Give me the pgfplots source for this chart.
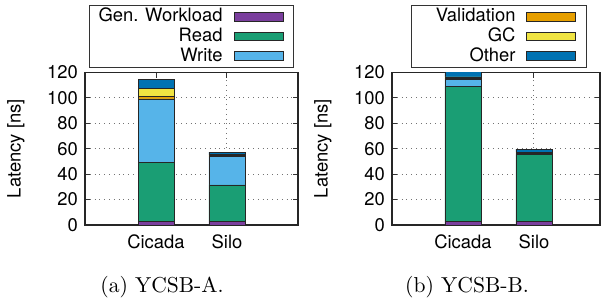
\documentclass[border=0pt]{standalone}
\usepackage{fontspec}
\setsansfont{TeX Gyre Heros}
\usepackage{pgfplots}
\pgfplotsset{compat=1.18}
\definecolor{cgen}{HTML}{7A3E9D}
\definecolor{cread}{HTML}{1A9E74}
\definecolor{cwrite}{HTML}{56B4E9}
\definecolor{cval}{HTML}{E69F00}
\definecolor{cgc}{HTML}{F0E442}
\definecolor{coth}{HTML}{0072B2}
\colorlet{edge}{black!85}
\pgfplotsset{
  lat/.style={
    ybar stacked, bar width=18pt,
    scale only axis, height=76.25pt,
    xmin=0, ymin=0, ymax=120,
    xtick={1,2}, xticklabels={Cicada,Silo},
    ytick={0,20,40,60,80,100,120},
    xticklabel style={yshift=-1.2pt},
    tick align=inside, major tick length=2.5pt,
    tick style={black!80, line width=0.5pt},
    grid=major, major grid style={dotted, black!55, line width=0.5pt},
    axis line style={black!85, line width=0.6pt},
    ylabel={Latency [ns]},
    /pgf/number format/assume math mode=true,
    legend plot pos=right, legend cell align=right,
    legend image code/.code={\draw[##1] (0pt,-2.2pt) rectangle (24.5pt,2.2pt);},
    legend style={anchor=north west, draw=black!80, line width=0.5pt,
      inner xsep=5pt, inner ysep=1.2pt, row sep=1.1pt, column sep=5.5pt,
      nodes={inner sep=0pt, text height=6.8pt, text depth=2pt}},
  }
}
\begin{document}
\begin{tikzpicture}[font=\sffamily\fontsize{9.2}{11}\selectfont]
\begin{axis}[lat, at={(42.5pt,-112.5pt)}, anchor=south west,
  width=106.5pt, xmax=3,
  ylabel style={at={(axis description cs:-0.324,0.5)}, anchor=center},
  legend style={at={(axis description cs:0.0188,1.4426)}}]
\addlegendimage{fill=cgen, draw=edge}
\addlegendentry{\makebox[61.5pt][r]{Gen. Workload}}
\addlegendimage{fill=cread, draw=edge}
\addlegendentry{Read}
\addlegendimage{fill=cwrite, draw=edge}
\addlegendentry{Write}
\addplot[fill=cgen, draw=edge] coordinates {(1,3) (2,3)};
\addplot[fill=cread, draw=edge] coordinates {(1,46) (2,28.5)};
\addplot[fill=cwrite, draw=edge] coordinates {(1,50.2) (2,22.3)};
\addplot[fill=cval, draw=edge] coordinates {(1,2.3) (2,0.8)};
\addplot[fill=cgc, draw=edge] coordinates {(1,6.1) (2,0.6)};
\addplot[fill=coth, draw=edge] coordinates {(1,7.0) (2,2.2)};
\end{axis}
\begin{axis}[lat, at={(196pt,-112.5pt)}, anchor=south west,
  width=104pt, xmax=2.93,
  ylabel style={at={(axis description cs:-0.332,0.5)}, anchor=center},
  legend style={at={(axis description cs:0.0913,1.4426)}}]
\addlegendimage{fill=cval, draw=edge}
\addlegendentry{\makebox[47pt][r]{Validation}}
\addlegendimage{fill=cgc, draw=edge}
\addlegendentry{GC}
\addlegendimage{fill=coth, draw=edge}
\addlegendentry{Other}
\addplot[fill=cgen, draw=edge] coordinates {(1,3) (2,2.5)};
\addplot[fill=cread, draw=edge] coordinates {(1,105.8) (2,53)};
\addplot[fill=cwrite, draw=edge] coordinates {(1,5.7) (2,0.8)};
\addplot[fill=cval, draw=edge] coordinates {(1,1.0) (2,0.5)};
\addplot[fill=cgc, draw=edge] coordinates {(1,1.0) (2,0.5)};
\addplot[fill=coth, draw=edge] coordinates {(1,4.0) (2,2.5)};
\end{axis}
\node[anchor=base, font=\rmfamily\fontsize{10.8}{13}\selectfont] at (81pt,-146pt) {(a) YCSB-A.};
\node[anchor=base, font=\rmfamily\fontsize{10.8}{13}\selectfont] at (233.5pt,-146pt) {(b) YCSB-B.};
\pgfresetboundingbox
\useasboundingbox (0pt,0pt) rectangle (300.5pt,-151pt);
\end{tikzpicture}
\end{document}
